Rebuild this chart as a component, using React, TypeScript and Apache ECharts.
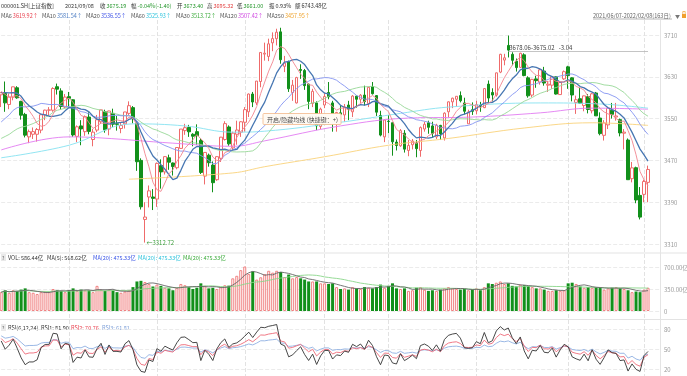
import { useEffect, useRef } from "react";
import * as echarts from "echarts";

// ---------- data ----------
const monthDays: [string, number[]][] = [
  ["2021/06", [7, 8, 9, 10, 11, 15, 16, 17, 18, 21, 22, 23, 24, 25, 28, 29, 30]],
  ["2021/07", [1, 2, 5, 6, 7, 8, 9, 12, 13, 14, 15, 16, 19, 20, 21, 22, 23, 26, 27, 28, 29, 30]],
  ["2021/08", [2, 3, 4, 5, 6, 9, 10, 11, 12, 13, 16, 17, 18, 19, 20, 23, 24, 25, 26, 27, 30, 31]],
  ["2021/09", [1, 2, 3, 6, 7, 8, 9, 10, 13, 14, 15, 16, 17, 22, 23, 24, 27, 28, 29, 30]],
  ["2021/10", [8, 11, 12, 13, 14, 15, 18, 19, 20, 21, 22, 25, 26, 27, 28, 29]],
  ["2021/11", [1, 2, 3, 4, 5, 8, 9, 10, 11, 12, 15, 16, 17, 18, 19, 22, 23, 24, 25, 26, 29, 30]],
  ["2021/12", [1, 2, 3, 6, 7, 8, 9, 10, 13, 14, 15, 16, 17, 20, 21, 22, 23, 24, 27, 28, 29, 30, 31]],
  ["2022/01", [4, 5, 6, 7, 10, 11, 12, 13, 14, 17, 18, 19, 20, 21, 24, 25, 26, 27, 28]],
  ["2022/02", [7, 8]],
];
const dates: string[] = monthDays.flatMap(([m, ds]) => ds.map((d) => `${m}/${String(d).padStart(2, "0")}`));

const opens = [
  3595.5, 3598, 3577, 3591, 3609, 3583, 3558, 3515, 3520, 3520, 3528, 3557, 3566, 3566, 3611, 3603, 3572,
  3592, 3586, 3516, 3536, 3525, 3553, 3510, 3528, 3544, 3563, 3530, 3560, 3540, 3531, 3540, 3560, 3571, 3541, 3470, 3357, 3400, 3400,
  3396, 3460, 3448, 3475, 3465, 3456, 3493, 3527, 3533, 3520, 3525, 3508, 3440, 3480, 3461, 3433, 3474, 3510, 3534, 3494, 3520, 3524,
  3543, 3563, 3597, 3580, 3621, 3673.4, 3669, 3695, 3703, 3716, 3650, 3659, 3600, 3580, 3644, 3642, 3616, 3579, 3580, 3535,
  3576, 3600, 3580, 3542, 3561, 3557, 3576, 3563, 3593, 3587, 3595, 3579, 3611, 3594, 3556, 3515,
  3545, 3542, 3505, 3498, 3522, 3489, 3500, 3503, 3489, 3530, 3542, 3536, 3515, 3537, 3513, 3563, 3582, 3587, 3594, 3580, 3540, 3567,
  3565, 3575, 3571, 3616, 3600, 3595, 3639, 3662, 3690, 3673, 3660, 3648, 3672, 3628, 3595, 3626, 3620, 3641, 3614, 3614, 3630, 3596, 3626,
  3649, 3628, 3581, 3588, 3575, 3592, 3565, 3599, 3551, 3518, 3538, 3566, 3553, 3548, 3522, 3509, 3435, 3456, 3403,
  3405, 3428,
];
const closes = [
  3599.54, 3580.11, 3591.4, 3610.86, 3589.75, 3556.56, 3518.33, 3525.1, 3525.1, 3529.18, 3557.41, 3566.22, 3566.65, 3607.56, 3606.37, 3573.18, 3591.2,
  3588.78, 3518.76, 3534.32, 3530.26, 3553.72, 3525.5, 3524.09, 3547.84, 3566.73, 3528.5, 3564.59, 3539.3, 3539.12, 3536.79, 3562.7, 3574.73, 3550.4, 3467.44, 3381.18, 3361.59, 3411.72, 3397.36,
  3464.29, 3447.99, 3477.22, 3466.56, 3458.23, 3494.63, 3529.93, 3532.62, 3524.74, 3516.3, 3517.34, 3446.98, 3485.29, 3465.55, 3427.33, 3477.13, 3514.47, 3540.38, 3501.66, 3522.16, 3528.15, 3543.94,
  3567.1, 3597.04, 3581.73, 3621.86, 3676.59, 3675.19, 3693.13, 3703.11, 3715.37, 3662.6, 3656.22, 3607.09, 3613.97, 3628.49, 3642.22, 3613.07, 3582.83, 3602.22, 3536.29, 3568.17,
  3592.17, 3591.71, 3546.94, 3561.76, 3558.28, 3572.37, 3568.14, 3593.15, 3587.0, 3594.78, 3582.6, 3609.86, 3597.64, 3562.31, 3518.42, 3547.34,
  3544.48, 3505.63, 3498.54, 3526.87, 3491.57, 3498.63, 3507.0, 3492.46, 3532.79, 3539.1, 3533.3, 3521.79, 3537.37, 3520.71, 3560.37, 3582.08, 3589.09, 3592.7, 3584.18, 3564.09, 3562.7, 3563.89,
  3576.89, 3573.84, 3607.43, 3589.31, 3595.09, 3637.57, 3673.04, 3666.35, 3681.08, 3661.53, 3647.63, 3675.02, 3632.36, 3593.6, 3625.13, 3622.62, 3643.34, 3618.05, 3615.97, 3630.11, 3597.0, 3619.19, 3639.78,
  3632.33, 3595.18, 3586.08, 3579.54, 3593.52, 3567.44, 3597.43, 3555.26, 3521.26, 3541.67, 3569.91, 3558.18, 3555.06, 3522.57, 3524.11, 3433.06, 3455.67, 3394.25, 3361.44,
  3429.58, 3452.63,
];
const highs = [
  3600.4, 3621, 3598, 3611, 3612, 3584, 3561, 3529, 3533, 3532, 3558, 3567, 3572, 3610, 3617, 3608, 3597,
  3601, 3587, 3537, 3547, 3556, 3562, 3530, 3557, 3567, 3567, 3565, 3569, 3555, 3543, 3563, 3583, 3574, 3542, 3474, 3390, 3422, 3415,
  3466, 3472, 3478, 3481, 3466, 3495, 3530, 3540, 3538, 3522, 3539, 3512, 3486, 3483, 3468, 3478, 3515, 3545, 3537, 3525, 3546, 3545,
  3572, 3598, 3601, 3622, 3677, 3695.32, 3703, 3715, 3722, 3723.85, 3670, 3661, 3624, 3630, 3654, 3645, 3617, 3607, 3583, 3571,
  3598, 3620, 3584, 3563, 3576, 3578, 3584, 3595, 3594, 3597, 3613, 3611, 3620, 3595, 3565, 3548,
  3557, 3542, 3510, 3530, 3528, 3509, 3511, 3509, 3535, 3544, 3546, 3544, 3540, 3538, 3562, 3583, 3590, 3593, 3602, 3590, 3567, 3581,
  3584, 3582, 3608, 3623, 3608, 3638, 3674, 3674, 3708.94, 3677, 3665, 3676, 3675, 3631, 3626, 3632, 3646, 3649, 3622, 3631, 3631, 3622, 3642,
  3651, 3629, 3594, 3609, 3594, 3597, 3599, 3601, 3562, 3547, 3570, 3580, 3580, 3550, 3530, 3512, 3467, 3458, 3419,
  3433, 3460,
];
const lows = [
  3572.1, 3563, 3568, 3585, 3588, 3548, 3514, 3503, 3511, 3506, 3522, 3547, 3556, 3563, 3596, 3567, 3570,
  3572, 3515, 3505, 3499, 3517, 3520, 3497, 3524, 3540, 3523, 3518, 3534, 3527, 3522, 3531, 3557, 3541, 3450, 3376, 3312.72, 3380, 3375,
  3381, 3416, 3443, 3452, 3441, 3453, 3492, 3519, 3515, 3497, 3500, 3444, 3424, 3458, 3409, 3431, 3467, 3508, 3498, 3489, 3500, 3515,
  3525, 3553, 3572, 3576, 3610, 3661.0, 3660, 3679, 3690, 3655, 3639, 3601, 3584, 3579, 3626, 3605, 3568, 3572, 3528, 3530,
  3570, 3587, 3525, 3525, 3551, 3544, 3547, 3553, 3571, 3580, 3575, 3572, 3596, 3555, 3516, 3505,
  3522, 3479, 3489, 3496, 3485, 3478, 3491, 3476, 3477, 3525, 3521, 3513, 3511, 3509, 3508, 3552, 3570, 3573, 3581, 3558, 3540, 3557,
  3558, 3563, 3570, 3580, 3583, 3592, 3637, 3652, 3667, 3652, 3640, 3647, 3631, 3590, 3591, 3609, 3615, 3613, 3601, 3607, 3596, 3596, 3624,
  3607, 3583, 3559, 3578, 3564, 3560, 3560, 3555, 3518, 3508, 3530, 3550, 3546, 3516, 3491, 3433, 3428, 3388, 3357,
  3390, 3390,
];
// closes of the 29 sessions before 2021/06/07 (needed by the averages and RSI)
const priorCloses = [
  3465.11, 3474.17, 3441.17, 3442.61, 3457.07, 3474.9, 3446.86, 3441.28, 3418.87, 3427.99, 3441.85, 3462.75, 3429.54, 3490.38,
  3517.62, 3529.01, 3510.96, 3506.94, 3486.56, 3497.28, 3581.34, 3593.36, 3608.85, 3600.78, 3615.48, 3624.71, 3597.14, 3584.22, 3591.84,
];
// volume, 亿
const volumes = [
  300, 330, 290, 330, 320, 340, 360, 300, 290, 270, 300, 310, 300, 350, 330, 320, 300,
  330, 360, 320, 340, 330, 330, 300, 400, 340, 320, 340, 330, 300, 290, 310, 330, 380, 470, 480, 460, 430, 390,
  420, 400, 370, 360, 330, 370, 430, 410, 380, 350, 370, 440, 400, 360, 370, 350, 380, 410, 403.4, 520, 560, 650,
  720, 590, 630, 500, 536.66, 586.44, 640, 610, 640, 620, 540, 580, 520, 540, 520, 500, 470, 470, 470, 440,
  440, 430, 440, 380, 350, 360, 340, 380, 360, 350, 380, 370, 360, 380, 420, 370,
  400, 440, 360, 350, 360, 320, 330, 370, 380, 340, 320, 330, 320, 340, 360, 380, 360, 350, 340, 350, 330, 340,
  360, 330, 380, 440, 430, 450, 470, 430, 440, 400, 390, 420, 410, 400, 380, 360, 360, 340, 320, 320, 330, 320, 330,
  440, 450, 430, 390, 370, 380, 370, 380, 370, 340, 360, 370, 380, 360, 350, 330, 300, 310, 300,
  340, 370,
];
// long averages: [session index, value]
const ma60Read: [number, number][] = [
  [0, 3475], [17, 3499], [33, 3540], [46, 3536], [58, 3524], [66, 3525.93], [85, 3543], [100, 3560], [112, 3572], [135, 3580], [150, 3578], [162, 3570],
];
const ma120Read: [number, number][] = [
  [0, 3490], [17, 3515], [25, 3513], [43, 3503], [58, 3497], [66, 3507.42], [85, 3536], [102, 3551], [118, 3553], [135, 3561], [148, 3570], [162, 3568],
];
const ma250Read: [number, number][] = [
  [32, 3434], [58, 3446], [66, 3457.95], [81, 3477], [97, 3499], [112, 3512], [131, 3532], [148, 3542], [162, 3537],
];
const priceAxis = { min: 3310, max: 3710, interval: 80 };
const volAxis = { min: 0, max: 700, interval: 350 };
const rsiAxis = { min: 20, max: 80, interval: 30 };
const maxLabel = "3723.85";
const minLabel = "3312.72";
const measureText = "3678.06-3675.02   -3.04";
const measureFrom = 127;
const measureLevel = 3678.06;

// ---------- helpers ----------
const FONT = '"Noto Sans CJK SC", "Noto Sans", sans-serif';
const FS = 5.5;
const N = closes.length;
const PAD = 3;
const cats = dates.concat(Array.from({ length: PAD }, () => ""));

function movingAverage(n: number) {
  const full = priorCloses.concat(closes);
  const off = priorCloses.length;
  return closes.map((_, i) => {
    const j = i + off;
    if (j - n + 1 < 0) return "-";
    let s = 0;
    for (let k = j - n + 1; k <= j; k++) s += full[k];
    return +(s / n).toFixed(2);
  });
}
function sparse(points: [number, number][]) {
  const a: (number | string)[] = Array.from({ length: N }, () => "-");
  points.forEach(([i, v]) => (a[i] = v));
  return a;
}
function volMA(n: number) {
  return volumes.map((_, i) => {
    const s = Math.max(0, i - n + 1);
    const w = volumes.slice(s, i + 1);
    return +(w.reduce((a, b) => a + b, 0) / w.length).toFixed(2);
  });
}
function rsi(n: number) {
  const full = priorCloses.concat(closes);
  const off = priorCloses.length;
  let up = 0, ab = 0;
  const out: number[] = [];
  for (let k = 1; k < full.length; k++) {
    const d = full[k] - full[k - 1];
    if (k === 1) { up = Math.max(d, 0); ab = Math.abs(d); }
    else { up = (Math.max(d, 0) + (n - 1) * up) / n; ab = (Math.abs(d) + (n - 1) * ab) / n; }
    if (k >= off) out.push(ab === 0 ? 50 : +((up / ab) * 100).toFixed(2));
  }
  return out;
}

const txt = (x: number, y: number, text: string, fill: string, size = FS, extra: any = {}) => ({
  type: "text", x, y, silent: true,
  style: { text, fill, fontSize: size, fontFamily: FONT, verticalAlign: "middle", ...extra },
});
const pair = (x: number, y: number, label: string, value: string, labelColor: string, valueColor: string) => ({
  type: "text", x, y, silent: true,
  style: {
    text: `{l|${label}}{v|${value}}`, fontSize: FS, fontFamily: FONT, verticalAlign: "middle",
    rich: {
      l: { fill: labelColor, fontSize: FS, fontFamily: FONT, padding: [0, 1, 0, 0] },
      v: { fill: valueColor, fontSize: FS, fontFamily: FONT },
    },
  },
});

export default function App() {
  const ref = useRef<HTMLDivElement>(null);
  useEffect(() => {
    const chart = echarts.init(ref.current!, null, { renderer: "svg" });
    const L = 1.2, W = 658.8;
    const isUp = (i: number) => closes[i] >= opens[i];
    const monthStart = (i: number) => i > 0 && i < N && dates[i].slice(0, 7) !== dates[i - 1].slice(0, 7);
    const red = "#ef6b6b", green = "#12901b", upG = "#23962a", dark = "#333";
    const hx = (gi: number) => ({ type: "category", gridIndex: gi, data: cats, boundaryGap: false, show: false });
    const yCommon = {
      position: "right", axisLine: { show: false }, axisTick: { show: false },
      axisLabel: { fontSize: 6, color: "#9a9a9a", margin: 4, fontFamily: FONT, formatter: (v: number) => String(v) },
      splitLine: { lineStyle: { color: "#ebebeb", type: "dashed", width: 1 } },
    };
    const line = (name: string, data: any, color: string, xi: number, width = 0.9, smooth: any = false) => ({
      name, type: "line", xAxisIndex: xi, yAxisIndex: xi, data, symbol: "none", silent: true, clip: false,
      connectNulls: true, smooth, lineStyle: { color, width },
    });
    const header1: [number, string, string, string][] = [
      [100, "收", "3675.19", upG], [131, "幅", "-0.04%(-1.40)", upG], [177, "开", "3673.40", upG],
      [207, "高", "3695.32", "#e23b3b"], [237, "低", "3661.00", upG], [269, "振", "0.93%", dark], [295, "额", "6743.48亿", dark],
    ];
    const header2: [number, string, string, string][] = [
      [1, "MA6", "3619.92↑", "#e8404e"], [42, "MA10", "3581.54↑", "#4f7fc4"], [86, "MA20", "3536.55↑", "#3e52e6"],
      [131, "MA60", "3525.93↑", "#2ec3dc"], [176, "MA30", "3513.72↑", "#3bab3b"], [220, "MA120", "3507.42↑", "#cf45e0"],
      [267, "MA250", "3457.95↑", "#eea22a"],
    ];
    const volHead: [number, string, string][] = [
      [8, "VOL: 586.44亿", dark], [47, "MA(5): 568.62亿", dark], [93, "MA(20): 475.33亿", "#3a55e6"],
      [138, "MA(20): 475.33亿", "#2ec3dc"], [183, "MA(20): 475.33亿", "#3bab3b"],
    ];
    const rsiHead: [number, string, string][] = [
      [8, "RSI(6,12,24)", dark], [41, "RSI1: 81.90", dark], [71, "RSI2: 70.76", "#e8404e"], [102, "RSI3: 61.81", "#7d9fd8"],
    ];
    const qIcon = (y: number) => ([
      { type: "rect", shape: { x: 1, y: y - 3.5, width: 5, height: 7 }, style: { fill: "#e9e9e9" }, silent: true },
      txt(2, y, "?", "#666", 5),
    ]);
    const graphic: any[] = [
      txt(1, 6, "000001.SH[上证指数]", dark), txt(65, 6, "2021/09/08", dark),
      ...header1.map(([x, l, v, c]) => pair(x, 6, l, v, dark, c)),
      ...header2.map(([x, l, v, c]) => pair(x, 15.5, l, v, "#555", c)),
      txt(593, 15.5, "2021/06/07-2022/02/08(163日)", "#666"),
      { type: "line", shape: { x1: 593, y1: 19, x2: 672, y2: 19 }, style: { stroke: "#888", lineWidth: 0.6 }, silent: true },
      txt(675, 15.5, "▼", "#777", 5),
      { type: "rect", shape: { x: 682, y: 14, width: 4, height: 4 }, style: { fill: "#f0a030" }, silent: true },
      { type: "rect", shape: { x: 682.8, y: 11.5, width: 2.4, height: 3 }, style: { fill: "none", stroke: "#f0a030", lineWidth: 0.7 }, silent: true },
      { type: "line", shape: { x1: 0, y1: 253, x2: 687, y2: 253 }, style: { stroke: "#e3e3e3", lineWidth: 1 }, silent: true },
      { type: "line", shape: { x1: 0, y1: 319.5, x2: 687, y2: 319.5 }, style: { stroke: "#e3e3e3", lineWidth: 1 }, silent: true },
      ...qIcon(257.5), ...volHead.map(([x, t, c]) => txt(x, 257.5, t, c)),
      ...qIcon(327.5), ...rsiHead.map(([x, t, c]) => txt(x, 327.5, t, c)),
      { type: "rect", shape: { x: 263, y: 113.5, width: 78, height: 11, r: 1 }, style: { fill: "#fffaf3", stroke: "#f3b98a", lineWidth: 0.8 }, silent: true, z: 100 },
      { ...txt(267, 119, "开启/隐藏均线 (快捷键：+)", "#444", 6), z: 101 },
    ];

    const option: any = {
      animation: false,
      textStyle: { fontFamily: FONT },
      grid: [
        { left: L, width: W, top: 20, bottom: 0, outerBoundsMode: "none" },
        { left: L, width: W, top: 35, height: 209, outerBoundsMode: "none" },
        { left: L, width: W, top: 267, height: 44, outerBoundsMode: "none" },
        { left: L, width: W, top: 329, height: 40, outerBoundsMode: "none" },
      ],
      xAxis: [
        {
          type: "category", gridIndex: 0, data: cats, boundaryGap: false,
          axisLine: { show: false }, axisTick: { show: false }, axisLabel: { show: false },
          splitLine: { show: true, interval: (i: number) => monthStart(i), lineStyle: { color: "#e2e2e2", type: "dashed", width: 1 } },
        },
        hx(1), hx(2), hx(3),
      ],
      yAxis: [
        { type: "value", gridIndex: 0, position: "right", axisLabel: { show: false }, axisTick: { show: false }, splitLine: { show: false }, axisLine: { show: true, lineStyle: { color: "#e4e4e4" } } },
        { type: "value", gridIndex: 1, ...priceAxis, ...yCommon },
        {
          type: "value", gridIndex: 2, ...volAxis, ...yCommon,
          axisLabel: { ...yCommon.axisLabel, formatter: (v: number) => (v === 0 ? "0" : v.toFixed(2) + "亿") },
        },
        { type: "value", gridIndex: 3, ...rsiAxis, ...yCommon },
      ],
      graphic,
      series: [
        {
          type: "candlestick", xAxisIndex: 1, yAxisIndex: 1, barWidth: 3, clip: false, silent: true,
          data: opens.map((o, i) => [o, closes[i], lows[i], highs[i]]),
          itemStyle: { color: "#ffffff", color0: green, borderColor: red, borderColor0: green, borderWidth: 1 },
          markPoint: {
            symbol: "rect", symbolSize: 1, silent: true, itemStyle: { color: "rgba(0,0,0,0)" },
            data: [
              { type: "max", valueDim: "highest", label: { show: true, position: "right", distance: 1, formatter: "←" + maxLabel, color: "#e46a6a", fontSize: 6 } },
              { type: "min", valueDim: "lowest", label: { show: true, position: "right", distance: 1, formatter: "←" + minLabel, color: "#3c9e3c", fontSize: 6 } },
            ],
          },
          markLine: {
            silent: true, symbol: ["none", "none"],
            lineStyle: { color: "#b5b5b5", type: "solid", width: 0.8 },
            label: { show: true, position: "insideStartTop", distance: 1, formatter: measureText, color: "#444", fontSize: 6 },
            data: [[{ coord: [dates[measureFrom], measureLevel] }, { coord: [dates[N - 1], measureLevel] }]],
          },
        },
        line("MA250", sparse(ma250Read), "#f9d27a", 1, 0.9, 0.4),
        line("MA120", sparse(ma120Read), "#e27cf2", 1, 0.9, 0.4),
        line("MA60", sparse(ma60Read), "#86e2f0", 1, 0.9, 0.4),
        line("MA30", movingAverage(30), "#97d897", 1, 0.9),
        line("MA20", movingAverage(20), "#8594f2", 1, 0.9),
        line("MA10", movingAverage(10), "#4676b2", 1, 1.3),
        line("MA6", movingAverage(6), "#f2848f", 1, 0.9),
        {
          type: "bar", xAxisIndex: 2, yAxisIndex: 2, barWidth: 3, silent: true,
          data: volumes.map((v, i) => ({
            value: v,
            itemStyle: isUp(i) ? { color: "#ffffff", borderColor: "#f08080", borderWidth: 1 } : { color: green },
          })),
        },
        line("VMA20", volMA(20), "#8ad68a", 2, 0.9),
        line("VMA5", volMA(5), "#666666", 2, 0.9),
        line("RSI3", rsi(24), "#8fb0e2", 3, 0.9),
        line("RSI2", rsi(12), "#ee6a78", 3, 0.9),
        line("RSI1", rsi(6), "#333333", 3, 0.9),
      ],
    };
    chart.setOption(option);
    return () => chart.dispose();
  }, []);
  return <div ref={ref} style={{ position: "fixed", left: 0, top: 0, width: 687, height: 376 }} />;
}
